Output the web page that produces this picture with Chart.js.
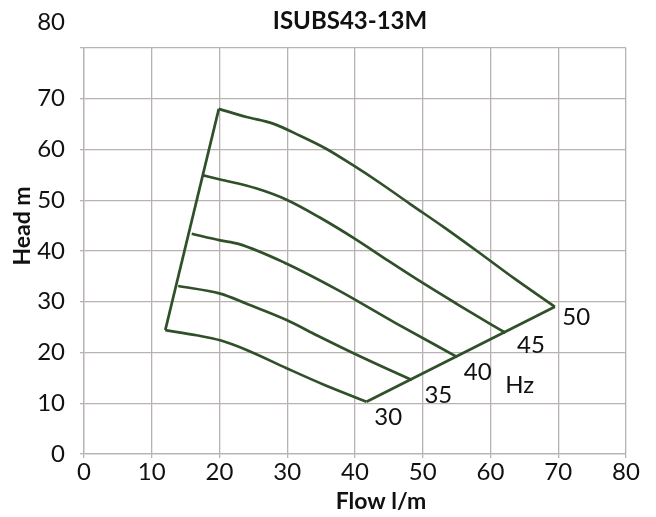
<!DOCTYPE html>
<html>
<head>
<meta charset="utf-8">
<script src="https://cdn.jsdelivr.net/npm/chart.js@4"></script>
<style>
  html, body { margin: 0; padding: 0; background: #fff; }
  #wrap { width: 656px; height: 517px; }
</style>
</head>
<body>
<div id="wrap"><canvas id="myChart" width="656" height="517"></canvas></div>
<script>
// pump curves (flow l/m, head m)
const flow50 = [19.9, 24, 27.9, 31.9, 35.8, 39.7, 43.7, 48.1, 53, 58, 63.5, 69.5];
const head50 = [68, 66.4, 65.1, 62.7, 60.1, 56.9, 53.4, 49.3, 44.8, 40.0, 34.6, 29];
const flow45 = [17.6, 20.1, 25.5, 29.9, 34.8, 40, 45, 50, 55, 60, 62.2];
const head45 = [54.9, 54.1, 52.3, 50.1, 46.6, 42.4, 38.0, 33.7, 29.6, 25.6, 23.9];
const flow40 = [15.9, 20.1, 22.8, 29.6, 37.5, 46, 55.1];
const head40 = [43.4, 42.1, 41.4, 37.7, 32.3, 25.8, 19.1];
const flow35 = [13.9, 20.1, 24, 29.9, 34.5, 39.7, 45.2, 48.4];
const head35 = [33.1, 31.6, 29.6, 26.4, 23.3, 19.9, 16.5, 14.6];
const flow30 = [12, 16.6, 20.1, 24, 29.9, 35.5, 41.7];
const head30 = [24.4, 23.4, 22.4, 20.5, 16.9, 13.6, 10.3];
// envelope lines joining the curve ends
const flowLeft = [12, 19.9];
const headLeft = [24.4, 68];
const flowRight = [41.7, 69.5];
const headRight = [10.3, 29];

const hzLabels = ['50', '45', '40', '35', '30', 'Hz'];
const hzLabelX = [72.66, 65.98, 58.1, 52.3, 44.9, 64.3];
const hzLabelY = [27.0, 21.4, 16.2, 11.6, 7.2, 13.56];

const xTicks = [0, 10, 20, 30, 40, 50, 60, 70, 80];
const yTicks = [0, 10, 20, 30, 40, 50, 60, 70, 80];
const title = 'ISUBS43-13M';
const xTitle = 'Flow l/m';
const yTitle = 'Head m';

const lineColor = '#30502a';
const gridColor = '#b8b2b0';
const textColor = '#111';
const font = 'Lato, "Open Sans", sans-serif';

function pts(xs, ys) {
  return xs.map((x, i) => ({ x: x, y: ys[i] }));
}

function curve(xs, ys, smooth) {
  return {
    data: pts(xs, ys),
    showLine: true,
    borderColor: lineColor,
    borderWidth: 2.7,
    pointRadius: 0,
    cubicInterpolationMode: smooth ? 'monotone' : 'default',
    tension: 0,
    fill: false
  };
}

// title, axis titles and Hz labels sit off-centre in the original, so they are placed by hand
const textPlugin = {
  id: 'texts',
  afterDraw(chart) {
    const ctx = chart.ctx;
    const xs = chart.scales.x;
    const ys = chart.scales.y;
    ctx.save();
    ctx.fillStyle = textColor;
    ctx.textAlign = 'center';
    ctx.textBaseline = 'middle';
    ctx.font = 'bold 24px ' + font;
    ctx.fillText(title, 350, 21);
    ctx.font = 'bold 23px ' + font;
    ctx.fillText(xTitle, 381, 502);
    ctx.save();
    ctx.translate(23, 226);
    ctx.rotate(-Math.PI / 2);
    ctx.fillText(yTitle, 0, 0);
    ctx.restore();
    ctx.font = '24px ' + font;
    hzLabels.forEach((t, i) => {
      ctx.fillText(t, xs.getPixelForValue(hzLabelX[i]), ys.getPixelForValue(hzLabelY[i]));
    });
    // the top y label sits above its grid line in the original
    ctx.textAlign = 'right';
    ctx.fillText(String(yTicks[yTicks.length - 1]), 65, 22);
    ctx.restore();
  }
};

const ctx = document.getElementById('myChart').getContext('2d');
new Chart(ctx, {
  type: 'scatter',
  data: {
    datasets: [
      curve(flow50, head50, true),
      curve(flow45, head45, true),
      curve(flow40, head40, true),
      curve(flow35, head35, true),
      curve(flow30, head30, true),
      curve(flowLeft, headLeft, false),
      curve(flowRight, headRight, false)
    ]
  },
  options: {
    responsive: false,
    animation: false,
    layout: { padding: { top: 48, right: 30, left: 0, bottom: 0 } },
    plugins: {
      legend: { display: false },
      tooltip: { enabled: false }
    },
    scales: {
      x: {
        type: 'linear',
        min: 0,
        max: 80,
        afterBuildTicks: (s) => { s.ticks = xTicks.map(v => ({ value: v })); },
        afterFit: (s) => { s.height = 63; },
        grid: { color: gridColor, lineWidth: 1.3, tickLength: 4 },
        border: { color: gridColor, width: 1.3 },
        ticks: { color: textColor, font: { family: font, size: 24 }, padding: 0 }
      },
      y: {
        type: 'linear',
        min: 0,
        max: 80,
        afterBuildTicks: (s) => { s.ticks = yTicks.map(v => ({ value: v })); },
        afterFit: (s) => { s.width = 84; },
        grid: { color: gridColor, lineWidth: 1.3, tickLength: 4 },
        border: { color: gridColor, width: 1.3 },
        ticks: {
          color: textColor,
          font: { family: font, size: 24 },
          padding: 15,
          callback: (v) => v === yTicks[yTicks.length - 1] ? '' : String(v)
        }
      }
    }
  },
  plugins: [textPlugin]
});
</script>
</body>
</html>
